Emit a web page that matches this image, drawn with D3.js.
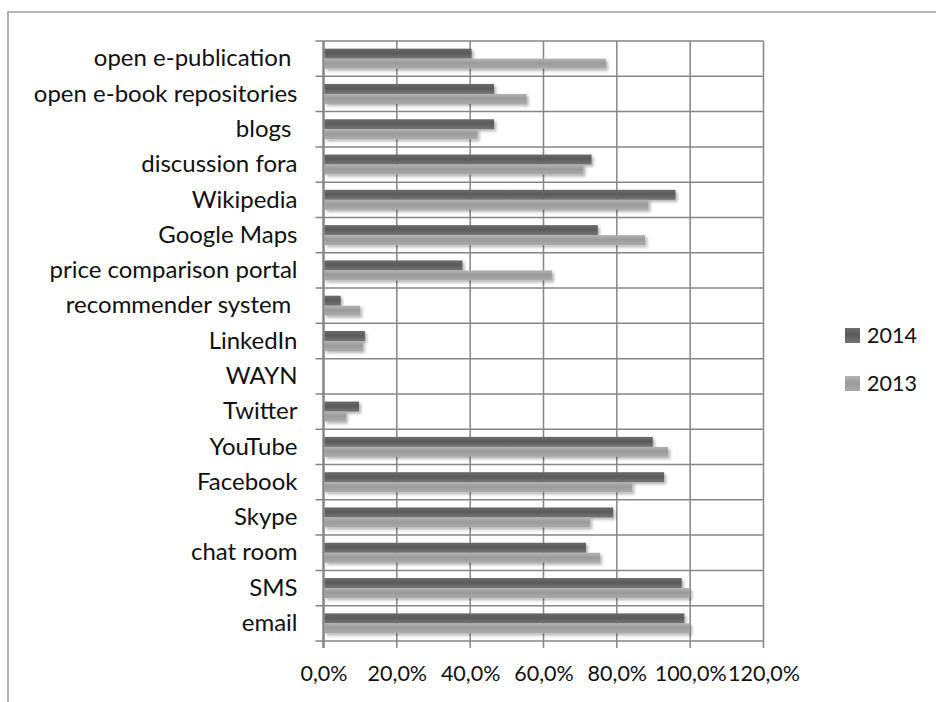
<!DOCTYPE html>
<html>
<head>
<meta charset="utf-8">
<script src="https://cdn.jsdelivr.net/npm/d3@7"></script>
<style>
  body { margin: 0; background: #fff; }
  svg { display: block; font-family: Lato, "Open Sans", sans-serif; }
  .cat-label { white-space: pre; }
</style>
</head>
<body>
<svg id="chart" width="936" height="702"></svg>
<script>
// Categories, top to bottom (trailing spaces are in the original labels)
const categories = [
  "open e-publication ", "open e-book repositories", "blogs ", "discussion fora",
  "Wikipedia", "Google Maps", "price comparison portal", "recommender system ",
  "LinkedIn", "WAYN", "Twitter", "YouTube", "Facebook", "Skype",
  "chat room", "SMS", "email"
];
const series = ["2014", "2013"];
const values2014 = [0.404, 0.465, 0.465, 0.731, 0.960, 0.748, 0.379, 0.047,
  0.113, 0, 0.097, 0.898, 0.929, 0.790, 0.716, 0.977, 0.984];
const values2013 = [0.770, 0.554, 0.420, 0.709, 0.886, 0.877, 0.623, 0.100,
  0.107, 0, 0.061, 0.940, 0.842, 0.727, 0.754, 1.000, 1.000];
const xTicks = [0, 0.2, 0.4, 0.6, 0.8, 1.0, 1.2];

const svg = d3.select("#chart");
const plot = {left: 323.5, right: 763.5, top: 41, bottom: 641};
const gridColor = "#868686";

// Outer frame (only top and left edges show)
svg.append("path")
  .attr("d", "M8,702 V12 H936")
  .attr("fill", "none")
  .attr("stroke", "#9a9a9a")
  .attr("stroke-width", 1.5);

// Scales
const x = d3.scaleLinear().domain([0, 1.2]).range([plot.left, plot.right]);
const y = d3.scaleBand().domain(categories).range([plot.top, plot.bottom]);
const ySub = d3.scaleBand().domain(series).range([0, y.bandwidth()]).paddingOuter(0.765);

// Gradients + soft shadow, like the Excel bars
const defs = svg.append("defs");
const grads = {
  "2014": [["0%", "#6c6c6c"], ["45%", "#5a5a5a"], ["100%", "#767676"]],
  "2013": [["0%", "#b4b4b4"], ["45%", "#9a9a9a"], ["100%", "#ababab"]]
};
Object.entries(grads).forEach(([k, stops]) => {
  const g = defs.append("linearGradient").attr("id", "g" + k)
    .attr("x1", 0).attr("y1", 0).attr("x2", 0).attr("y2", 1);
  stops.forEach(s => g.append("stop").attr("offset", s[0]).attr("stop-color", s[1]));
});
defs.append("filter").attr("id", "shadow")
  .attr("x", "-5%").attr("y", "-50%").attr("width", "120%").attr("height", "250%")
  .append("feDropShadow")
  .attr("dx", 2).attr("dy", 2).attr("stdDeviation", 1.8)
  .attr("flood-color", "#000").attr("flood-opacity", 0.3);

// Grid: horizontal lines at category boundaries, vertical at x ticks
const boundaries = categories.map(c => y(c)).concat([plot.bottom]);
svg.append("g").selectAll("line.h")
  .data(boundaries)
  .join("line")
  .attr("x1", plot.left - 8).attr("x2", plot.right)
  .attr("y1", d => d).attr("y2", d => d)
  .attr("stroke", gridColor).attr("stroke-width", 1.5);

svg.append("g").selectAll("line.v")
  .data(xTicks)
  .join("line")
  .attr("x1", d => x(d)).attr("x2", d => x(d))
  .attr("y1", plot.top).attr("y2", plot.bottom + 7)
  .attr("stroke", gridColor)
  .attr("stroke-width", d => d === 0 ? 2.5 : 1.5);

// Bars
const rows = categories.map((c, i) => ({cat: c, v: {"2014": values2014[i], "2013": values2013[i]}}));
const groups = svg.append("g").selectAll("g")
  .data(rows)
  .join("g")
  .attr("transform", d => `translate(0,${y(d.cat)})`);

groups.selectAll("rect")
  .data(d => series.map(s => ({s, v: d.v[s]})).filter(d => d.v > 0))
  .join("rect")
  .attr("x", x(0) + 1)
  .attr("y", d => ySub(d.s))
  .attr("width", d => x(d.v) - x(0) - 1)
  .attr("height", ySub.bandwidth())
  .attr("fill", d => `url(#g${d.s})`)
  .attr("filter", "url(#shadow)");

// Category labels
const yAxis = d3.axisLeft(y).tickSize(0).tickPadding(26);
svg.append("g")
  .attr("transform", `translate(${plot.left},0)`)
  .call(yAxis)
  .call(g => g.select(".domain").remove())
  .selectAll("text")
  .attr("class", "cat-label")
  .attr("font-family", "Lato, 'Open Sans', sans-serif")
  .attr("font-size", 24)
  .attr("dy", "0.32em")
  .attr("fill", "#111");

// X axis labels
const fmt = d => (d * 100).toFixed(1).replace(".", ",") + "%";
const xAxis = d3.axisBottom(x).tickValues(xTicks).tickFormat(fmt).tickSize(0).tickPadding(25);
svg.append("g")
  .attr("transform", `translate(0,${plot.bottom})`)
  .call(xAxis)
  .call(g => g.select(".domain").remove())
  .selectAll("text")
  .attr("font-family", "Lato, 'Open Sans', sans-serif")
  .attr("font-size", 21.5)
  .attr("fill", "#111");

// Legend
const legend = svg.append("g").selectAll("g")
  .data(series)
  .join("g")
  .attr("transform", (d, i) => `translate(845,${328 + i * 48})`);
legend.append("rect")
  .attr("width", 15).attr("height", 15)
  .attr("fill", d => `url(#g${d})`);
legend.append("text")
  .attr("x", 22).attr("y", 15)
  .attr("font-size", 21.5)
  .attr("fill", "#111")
  .text(d => d);
</script>
</body>
</html>
